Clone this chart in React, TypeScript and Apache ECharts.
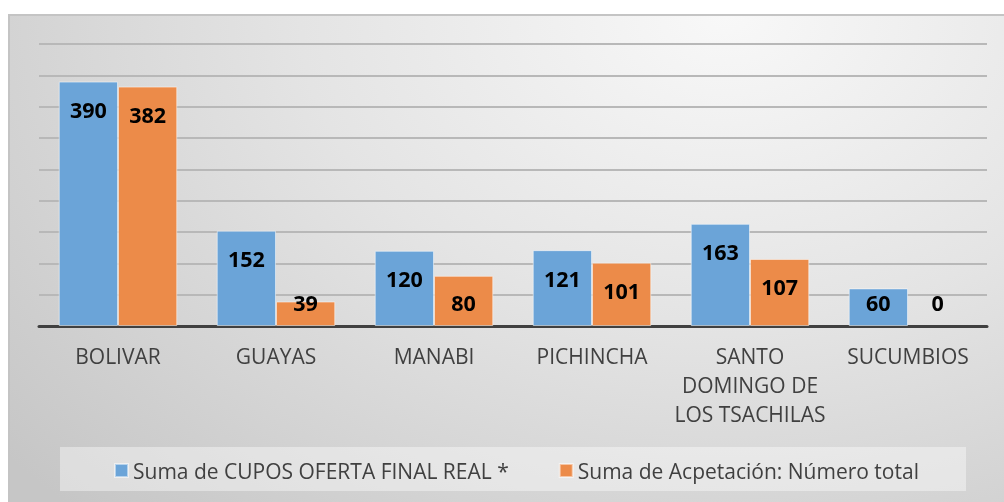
import React, { useEffect, useRef } from "react";
import * as echarts from "echarts";

const categories = ["BOLIVAR", "GUAYAS", "MANABI", "PICHINCHA", "SANTO\nDOMINGO DE\nLOS TSACHILAS", "SUCUMBIOS"];
const seriesNames = ["Suma de CUPOS OFERTA FINAL REAL *", "Suma de Acpetación: Número total"];
const cuposValues = [390, 152, 120, 121, 163, 60];
const aceptacionValues = [382, 39, 80, 101, 107, 0];

const Y_MAX = 450;
const Y_INTERVAL = 50;
const LABEL_SWITCH = 85;

const FONT = "'Open Sans', 'Noto Sans', sans-serif";

function toItems(values: number[]) {
  return values.map((v) => ({
    value: v,
    label:
      v > LABEL_SWITCH
        ? { position: "insideTop", distance: 17 }
        : { position: "insideBottom", distance: 13 },
    itemStyle: v === 0 ? { borderWidth: 0 } : {},
  }));
}

export default function App() {
  const ref = useRef<HTMLDivElement>(null);
  useEffect(() => {
    if (!ref.current) return;
    const chart = echarts.init(ref.current, null, { renderer: "svg" });
    const labelStyle = {
      show: true,
      color: "#000",
      fontFamily: FONT,
      fontWeight: "bold",
      fontSize: 21.5,
    };
    chart.setOption({
      animation: false,
      backgroundColor: "transparent",
      grid: { left: 31, right: 17, top: 30, bottom: 176 },
      graphic: [
        {
          type: "rect",
          left: 52,
          top: 433,
          shape: { width: 906, height: 44 },
          style: { fill: "rgba(255,255,255,0.4)" },
          z: -1,
        },
      ],
      legend: {
        left: 101,
        top: 441,
        itemWidth: 13,
        itemHeight: 13,
        itemGap: 50,
        icon: "rect",
        textStyle: { color: "#404040", fontFamily: FONT, fontSize: 21 },
        data: seriesNames,
      },
      xAxis: {
        type: "category",
        data: categories,
        axisLine: { lineStyle: { color: "#404040", width: 3 } },
        axisTick: { show: false },
        axisLabel: {
          color: "#404040",
          fontFamily: FONT,
          fontSize: 21,
          lineHeight: 29,
          margin: 15,
          interval: 0,
        },
      },
      yAxis: {
        type: "value",
        min: 0,
        max: Y_MAX,
        interval: Y_INTERVAL,
        axisLabel: { show: false },
        axisLine: { show: false },
        axisTick: { show: false },
        splitLine: { lineStyle: { color: "#b8b8b8", width: 2 } },
      },
      series: [
        {
          name: seriesNames[0],
          type: "bar",
          data: toItems(cuposValues),
          barGap: "0%",
          barCategoryGap: "25%",
          itemStyle: { color: "#6ba4d8", borderColor: "rgba(255,255,255,0.5)", borderWidth: 1 },
          label: labelStyle,
        },
        {
          name: seriesNames[1],
          type: "bar",
          data: toItems(aceptacionValues),
          barGap: "0%",
          barCategoryGap: "25%",
          itemStyle: { color: "#ec8b49", borderColor: "rgba(255,255,255,0.5)", borderWidth: 1 },
          label: labelStyle,
        },
      ],
    });
    return () => chart.dispose();
  }, []);
  return (
    <div
      style={{
        position: "fixed",
        left: 8,
        top: 14,
        width: 996,
        height: 488,
        boxSizing: "border-box",
        borderTop: "2px solid #c4c4c4",
        borderLeft: "2px solid #c4c4c4",
        background: "radial-gradient(ellipse 95% 140% at 72% 0%, #f8f8f8 0%, #e4e4e4 45%, #c6c6c6 100%)",
      }}
    >
      <div ref={ref} style={{ position: "absolute", left: -2, top: -2, width: 996, height: 488 }} />
    </div>
  );
}
